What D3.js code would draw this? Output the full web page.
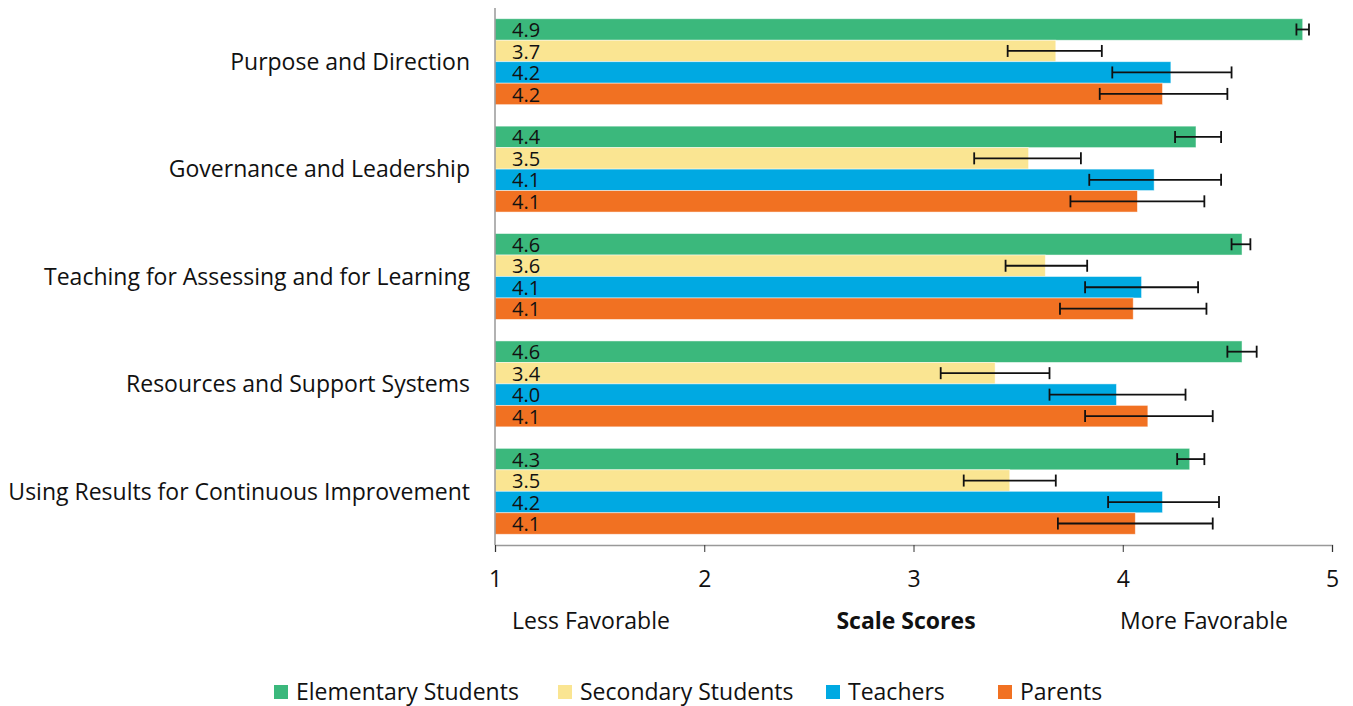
<!DOCTYPE html>
<html>
  <head>
    <style>
      body { margin: 0; background: white; }
      text { font-family: "Open Sans", "DejaVu Sans", sans-serif; }
    </style>
  </head>
  <body>
    <script src="https://d3js.org/d3.v7.min.js"></script>
    <script>
    var categories = ["Purpose and Direction", "Governance and Leadership", "Teaching for Assessing and for Learning",
      "Resources and Support Systems", "Using Results for Continuous Improvement"];
    var seriesNames = ["Elementary Students", "Secondary Students", "Teachers", "Parents"];
    var colors = ["#3BB87C", "#FAE592", "#00A9E2", "#F17122"];

    // mean score per category, one array per series
    var elementary = [4.86, 4.35, 4.57, 4.57, 4.32];
    var secondary  = [3.68, 3.55, 3.63, 3.39, 3.46];
    var teachers   = [4.23, 4.15, 4.09, 3.97, 4.19];
    var parents    = [4.19, 4.07, 4.05, 4.12, 4.06];

    // error bar ranges [low, high]
    var elementaryErr = [[4.83, 4.89], [4.25, 4.47], [4.52, 4.61], [4.50, 4.64], [4.26, 4.39]];
    var secondaryErr  = [[3.45, 3.90], [3.29, 3.80], [3.44, 3.83], [3.13, 3.65], [3.24, 3.68]];
    var teachersErr   = [[3.95, 4.52], [3.84, 4.47], [3.82, 4.36], [3.65, 4.30], [3.93, 4.46]];
    var parentsErr    = [[3.89, 4.50], [3.75, 4.39], [3.70, 4.40], [3.82, 4.43], [3.69, 4.43]];

    var labels = [["4.9","3.7","4.2","4.2"], ["4.4","3.5","4.1","4.1"], ["4.6","3.6","4.1","4.1"],
      ["4.6","3.4","4.0","4.1"], ["4.3","3.5","4.2","4.1"]];

    var xTicks = [1, 2, 3, 4, 5];

    var values = [elementary, secondary, teachers, parents];
    var errs = [elementaryErr, secondaryErr, teachersErr, parentsErr];

    var width = 1353, height = 706;
    var mLeft = 495, mRight = 1332, mTop = 8, mBottom = 545;
    var fs = 23;

    var svg = d3.select("body").append("svg")
        .attr("width", width)
        .attr("height", height);

    var x = d3.scaleLinear().domain([1, 5]).range([mLeft, mRight]);
    var y0 = d3.scaleBand().domain(categories).range([mTop, mBottom]).paddingInner(0.2).paddingOuter(0.1);
    var y1 = d3.scaleBand().domain(seriesNames).range([0, y0.bandwidth()]);

    var rows = [];
    categories.forEach(function(c, i) {
      seriesNames.forEach(function(s, j) {
        rows.push({cat: c, series: s, j: j, v: values[j][i], lo: errs[j][i][0], hi: errs[j][i][1], label: labels[i][j]});
      });
    });

    var g = svg.append("g");

    g.selectAll("rect.bar")
      .data(rows)
      .enter().append("rect")
        .attr("class", "bar")
        .attr("x", x(1))
        .attr("y", function(d) { return y0(d.cat) + y1(d.series); })
        .attr("width", function(d) { return x(d.v) - x(1); })
        .attr("height", y1.bandwidth())
        .attr("fill", function(d) { return colors[d.j]; })
        .attr("stroke", "#ffffff")
        .attr("stroke-opacity", 0.6)
        .attr("stroke-width", 0.8);

    g.selectAll("text.val")
      .data(rows)
      .enter().append("text")
        .attr("class", "val")
        .attr("x", x(1) + 17)
        .attr("y", function(d) { return y0(d.cat) + y1(d.series) + y1.bandwidth() / 2; })
        .attr("dy", "0.38em")
        .attr("font-size", 20)
        .attr("fill", "#111")
        .text(function(d) { return d.label; });

    // error bars
    var eb = g.selectAll("g.err")
      .data(rows)
      .enter().append("g")
        .attr("class", "err")
        .attr("transform", function(d) { return "translate(0," + (y0(d.cat) + y1(d.series) + y1.bandwidth() / 2) + ")"; })
        .attr("stroke", "#111")
        .attr("stroke-width", 1.8);
    eb.append("line")
      .attr("x1", function(d) { return x(d.lo); })
      .attr("x2", function(d) { return x(d.hi); });
    eb.append("line")
      .attr("x1", function(d) { return x(d.lo); })
      .attr("x2", function(d) { return x(d.lo); })
      .attr("y1", -6).attr("y2", 6);
    eb.append("line")
      .attr("x1", function(d) { return x(d.hi); })
      .attr("x2", function(d) { return x(d.hi); })
      .attr("y1", -6).attr("y2", 6);

    // category labels
    svg.selectAll("text.cat")
      .data(categories)
      .enter().append("text")
        .attr("class", "cat")
        .attr("x", mLeft - 25)
        .attr("y", function(d) { return y0(d) + y0.bandwidth() / 2; })
        .attr("dy", "0.36em")
        .attr("text-anchor", "end")
        .attr("font-size", fs)
        .attr("fill", "#111")
        .text(function(d) { return d; });

    // left axis line
    svg.append("line")
      .attr("x1", mLeft).attr("x2", mLeft)
      .attr("y1", mTop).attr("y2", mBottom)
      .attr("stroke", "#999").attr("stroke-width", 1.5);

    var xAxis = svg.append("g")
      .attr("transform", "translate(0," + mBottom + ")")
      .call(d3.axisBottom(x).tickValues(xTicks).tickFormat(d3.format("d")).tickSize(7).tickPadding(19));
    xAxis.select(".domain").attr("stroke", "#999").attr("stroke-width", 1.5);
    xAxis.selectAll(".tick line").attr("stroke", "#333");
    xAxis.selectAll(".tick text").attr("font-size", fs).attr("fill", "#111")
      .style("font-family", "'Open Sans', sans-serif");

    svg.append("text").attr("x", 591).attr("y", 629).attr("text-anchor", "middle")
      .attr("font-size", fs).attr("fill", "#111").text("Less Favorable");
    svg.append("text").attr("x", 906).attr("y", 629).attr("text-anchor", "middle")
      .attr("font-size", fs).attr("font-weight", "bold").attr("fill", "#111").text("Scale Scores");
    svg.append("text").attr("x", 1204).attr("y", 629).attr("text-anchor", "middle")
      .attr("font-size", fs).attr("fill", "#111").text("More Favorable");

    // legend
    var legendX = [274, 558, 826, 998];
    var leg = svg.selectAll("g.leg")
      .data(seriesNames)
      .enter().append("g")
        .attr("class", "leg")
        .attr("transform", function(d, i) { return "translate(" + legendX[i] + ",692)"; });
    leg.append("rect")
      .attr("x", 0).attr("y", -7).attr("width", 14).attr("height", 14)
      .attr("fill", function(d, i) { return colors[i]; });
    leg.append("text")
      .attr("x", 22).attr("dy", "0.36em")
      .attr("font-size", fs).attr("fill", "#111")
      .text(function(d) { return d; });
    </script>
  </body>
</html>
